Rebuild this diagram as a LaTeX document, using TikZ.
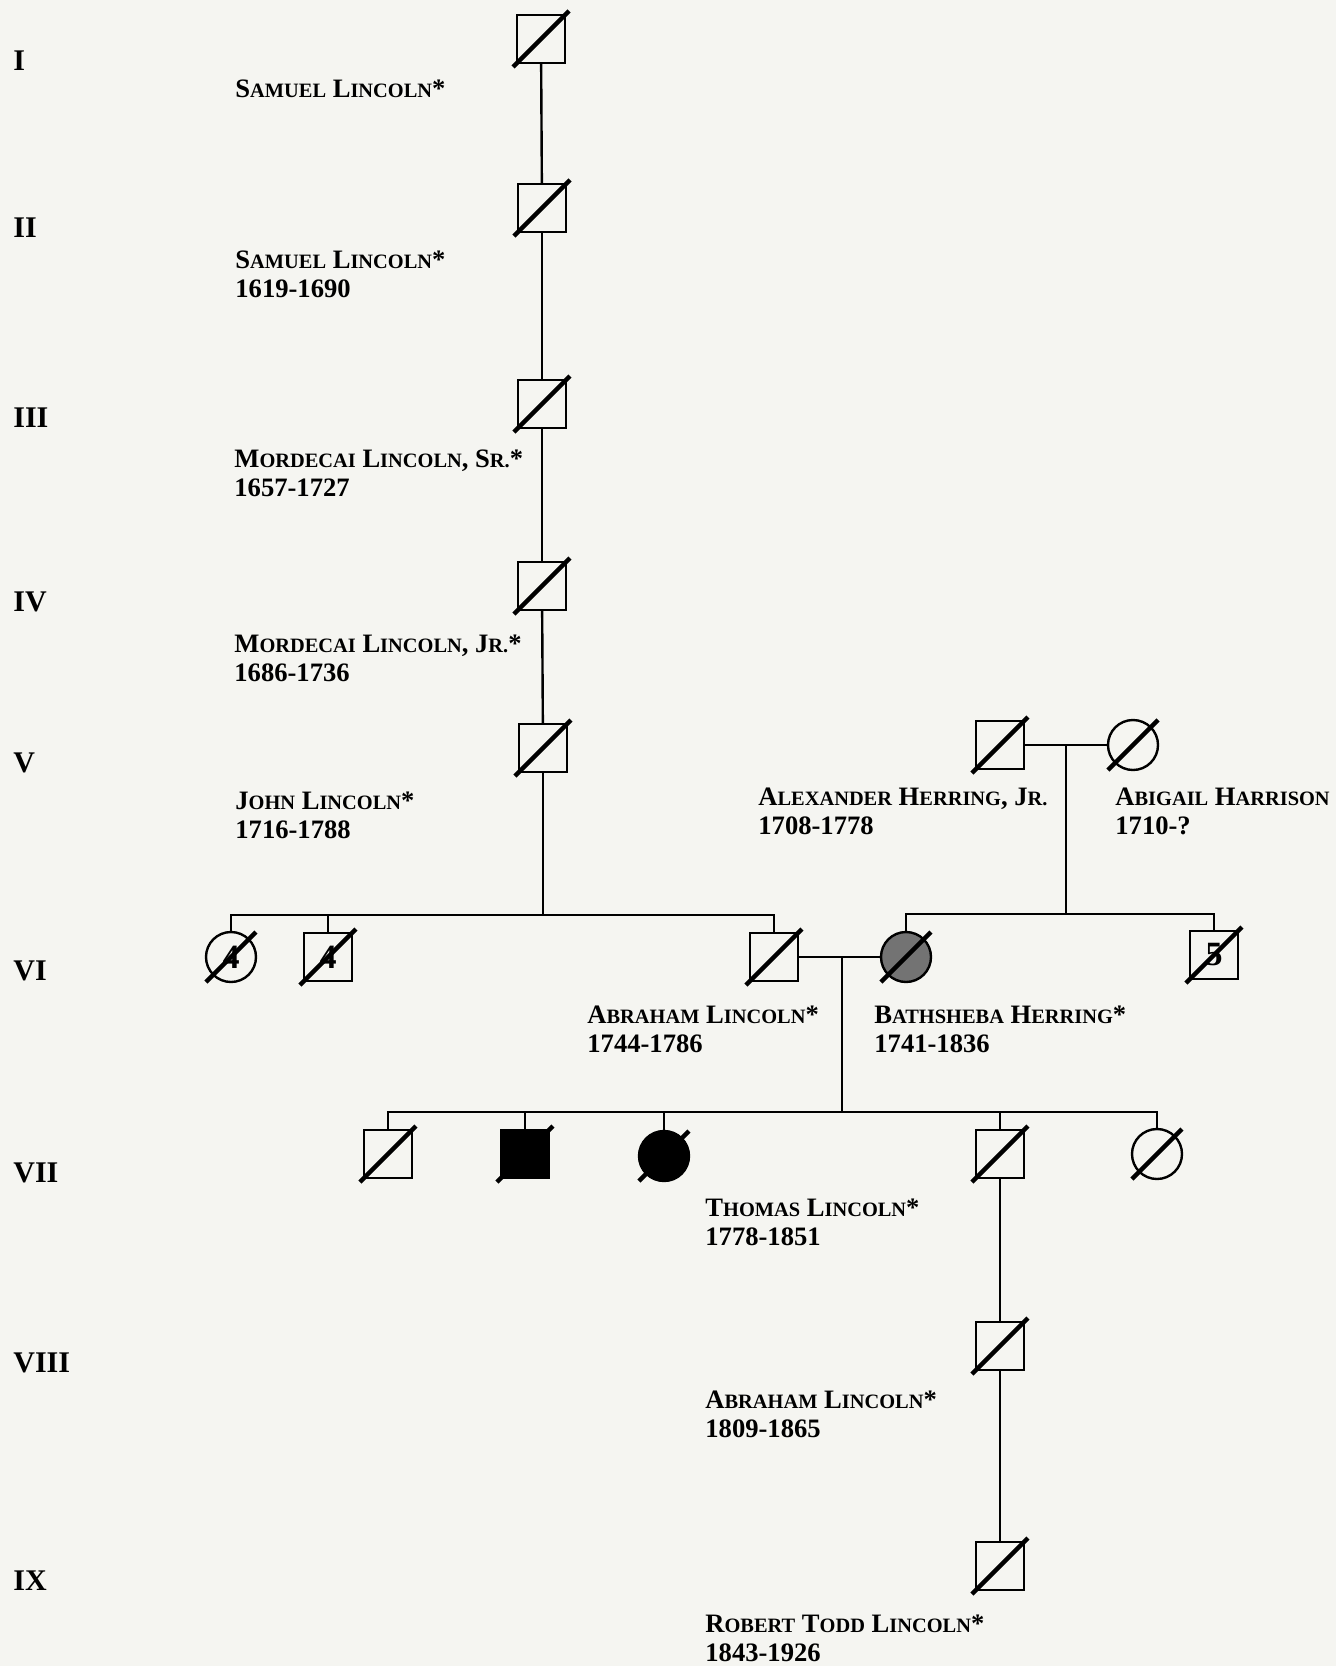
\documentclass[tikz,border=0pt]{standalone}
\usepackage{fontspec}
\setmainfont{Liberation Serif}
\usepackage{tikz}

\definecolor{paper}{RGB}{245,245,241}
\definecolor{shade}{gray}{0.45}

\newcommand{\sca}[1]{{\fontsize{10.2}{14.5}\selectfont\uppercase{#1}}}

\tikzset{
    male/.style={draw, line width=1.2pt, minimum size=24pt, inner sep=0pt,
        font=\fontsize{17}{17}\selectfont\bfseries},
    female/.style={draw, circle, line width=1.2pt, minimum size=25pt, inner sep=0pt,
        font=\fontsize{17}{17}\selectfont\bfseries},
    slash/.style={line width=2.2pt},
    link/.style={line width=1.2pt},
    gen/.style={anchor=west, inner sep=0pt, font=\fontsize{15}{15}\selectfont\bfseries},
    who/.style={anchor=base west, inner sep=0pt, align=left,
        font=\fontsize{13.3}{14.5}\selectfont\bfseries}
}

\begin{document}
\begin{tikzpicture}[x=0.5pt, y=-0.5pt]
    \fill[paper] (0,0) rectangle (1336,1666);
    \useasboundingbox (0,0) rectangle (1336,1666);

    % generations
    \node[gen] (gI)    at (13,61)   {I};
    \node[gen] (gII)   at (13,228)  {II};
    \node[gen] (gIII)  at (13,418)  {III};
    \node[gen] (gIV)   at (13,602)  {IV};
    \node[gen] (gV)    at (13,763)  {V};
    \node[gen] (gVI)   at (13,971)  {VI};
    \node[gen] (gVII)  at (13,1173) {VII};
    \node[gen] (gVIII) at (13,1363) {VIII};
    \node[gen] (gIX)   at (13,1581) {IX};

    % persons
    \node[male] (samA) at (541,39)  {};
    \node[male] (samB) at (542,208) {};
    \node[male] (morA) at (542,404) {};
    \node[male] (morB) at (542,586) {};
    \node[male] (john) at (543,748) {};

    \node[male]   (alex) at (1000,745) {};
    \node[female] (abig) at (1133,745) {};

    \node[female]            (sisA) at (231,957)  {4};
    \node[male]              (broA) at (328,957)  {4};
    \node[male]              (abrA) at (774,957)  {};
    \node[female,fill=shade] (bath) at (906,957)  {};
    \node[male]              (broH) at (1214,955) {5};

    \node[male]              (kidA) at (388,1154)  {};
    \node[male,fill=black]   (kidB) at (525,1154)  {};
    \node[female,fill=black] (kidC) at (664,1156)  {};
    \node[male]              (thom) at (1000,1154) {};
    \node[female]            (kidE) at (1157,1154) {};

    \node[male] (abrB) at (1000,1346) {};
    \node[male] (robt) at (1000,1566) {};

    % deceased
    \foreach \n in {samA,samB,morA,morB,john,alex,broA,abrA,broH,kidA,kidB,thom,abrB,robt}
        \draw[slash] ([shift={(-28,28)}]\n.center) -- ([shift={(28,-28)}]\n.center);
    \foreach \n in {abig,sisA,bath,kidC,kidE}
        \draw[slash] ([shift={(-25,25)}]\n.center) -- ([shift={(25,-25)}]\n.center);

    % names (placed by the baseline of the last line)
    \node[who] (lSamA) at (235,97)   {S\sca{amuel} L\sca{incoln}*};
    \node[who] (lSamB) at (235,297)  {S\sca{amuel} L\sca{incoln}*\\1619-1690};
    \node[who] (lMorA) at (234,496)  {M\sca{ordecai} L\sca{incoln}, S\sca{r.}*\\1657-1727};
    \node[who] (lMorB) at (234,681)  {M\sca{ordecai} L\sca{incoln}, J\sca{r.}*\\1686-1736};
    \node[who] (lJohn) at (235,838)  {J\sca{ohn} L\sca{incoln}*\\1716-1788};
    \node[who] (lAlex) at (758,834)  {A\sca{lexander} H\sca{erring}, J\sca{r.}\\1708-1778};
    \node[who] (lAbig) at (1115,834) {A\sca{bigail} H\sca{arrison}\\1710-?};
    \node[who] (lAbrA) at (587,1052) {A\sca{braham} L\sca{incoln}*\\1744-1786};
    \node[who] (lBath) at (874,1052) {B\sca{athsheba} H\sca{erring}*\\1741-1836};
    \node[who] (lThom) at (705,1245) {T\sca{homas} L\sca{incoln}*\\1778-1851};
    \node[who] (lAbrB) at (705,1437) {A\sca{braham} L\sca{incoln}*\\1809-1865};
    \node[who] (lRobt) at (705,1661) {R\sca{obert} T\sca{odd} L\sca{incoln}*\\1843-1926};

    % lines of descent
    \draw[link] (samA) -- (samB);
    \draw[link] (samB) -- (morA);
    \draw[link] (morA) -- (morB);
    \draw[link] (morB) -- (john);
    \coordinate (sibL) at (543,915);
    \draw[link] (john) -- (sibL);
    \draw[link] (sisA) |- (sibL) -| (abrA);
    \draw[link] (broA) -- (broA |- sibL);

    \draw[link] (alex) -- (abig);
    \coordinate (mH) at (1066,745);
    \coordinate (sibH) at (1066,914);
    \draw[link] (mH) -- (sibH);
    \draw[link] (bath) |- (sibH) -| (broH);

    \draw[link] (abrA) -- (bath);
    \coordinate (mL) at (842,957);
    \coordinate (sibK) at (842,1112);
    \draw[link] (mL) -- (sibK);
    \draw[link] (kidA) |- (sibK) -| (kidE);
    \foreach \k in {kidB,kidC,thom}
        \draw[link] (\k) -- (\k |- sibK);

    \draw[link] (thom) -- (abrB);
    \draw[link] (abrB) -- (robt);
\end{tikzpicture}
\end{document}
